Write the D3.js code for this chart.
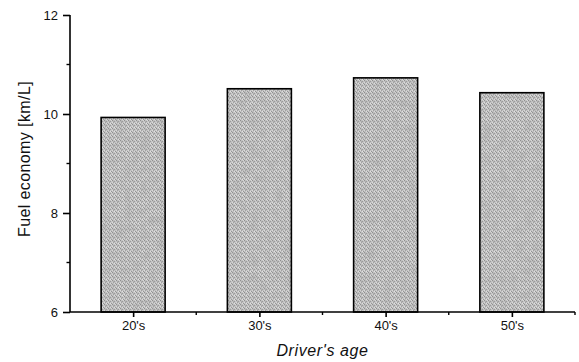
<!DOCTYPE html>
<html>
<head>
<meta charset="utf-8">
<script src="https://cdn.jsdelivr.net/npm/d3@7"></script>
<style>
  html, body { margin: 0; padding: 0; background: #fff; }
  svg { display: block; }
  text { font-family: "Liberation Sans", Arial, sans-serif; fill: #111; }
</style>
</head>
<body>
<svg id="chart" width="579" height="362"></svg>
<script>
// Fuel economy by driver age group
const categories = ["20's", "30's", "40's", "50's"];
const fuelEconomy = [9.93, 10.51, 10.73, 10.43];
const yMajorTicks = [6, 8, 10, 12];
const yMinorTicks = [7, 9, 11];

const svg = d3.select("#chart");
const plot = { left: 70, right: 575, top: 15, bottom: 312 };

// Halftone-like grey fill for the bars
const defs = svg.append("defs");
const pat = defs.append("pattern")
  .attr("id", "stipple")
  .attr("patternUnits", "userSpaceOnUse")
  .attr("width", 4).attr("height", 4);
pat.append("rect").attr("width", 4).attr("height", 4).attr("fill", "#c4c4c4");
[[0,0,"#8e8e8e"],[2,1,"#9a9a9a"],[1,2,"#a0a0a0"],[3,3,"#969696"],[2,3,"#e2e2e2"],[0,2,"#dcdcdc"],[3,0,"#d8d8d8"],[1,1,"#b0b0b0"]]
  .forEach(([x, y, c]) => pat.append("rect").attr("x", x).attr("y", y)
    .attr("width", 1).attr("height", 1).attr("fill", c));

const filt = defs.append("filter").attr("id", "mottle")
  .attr("x", 0).attr("y", 0).attr("width", 1).attr("height", 1);
filt.append("feTurbulence").attr("type", "fractalNoise")
  .attr("baseFrequency", 0.12).attr("numOctaves", 2).attr("seed", 4).attr("result", "noise");
filt.append("feColorMatrix").attr("in", "noise").attr("type", "matrix")
  .attr("values", "0 0 0 0 0.35  0 0 0 0 0.35  0 0 0 0 0.35  0.9 0 0 0 -0.35")
  .attr("result", "shade");
filt.append("feComposite").attr("in", "shade").attr("in2", "SourceGraphic")
  .attr("operator", "in").attr("result", "shadeIn");
filt.append("feMerge").selectAll("feMergeNode")
  .data(["SourceGraphic", "shadeIn"]).join("feMergeNode").attr("in", d => d);

const x = d3.scalePoint().domain(categories)
  .range([plot.left, plot.right]).padding(0.5);
const y = d3.scaleLinear().domain([6, 12]).range([plot.bottom, plot.top]);
const barW = x.step() * 0.507;

// Bars
const bars = svg.append("g");
bars.selectAll("rect.fill")
  .data(categories)
  .join("rect")
  .attr("class", "fill")
  .attr("x", d => x(d) - barW / 2)
  .attr("y", (d, i) => y(fuelEconomy[i]))
  .attr("width", barW)
  .attr("height", (d, i) => y(6) - y(fuelEconomy[i]))
  .attr("fill", "url(#stipple)")
  .attr("filter", "url(#mottle)");
bars.selectAll("rect.edge")
  .data(categories)
  .join("rect")
  .attr("class", "edge")
  .attr("x", d => x(d) - barW / 2)
  .attr("y", (d, i) => y(fuelEconomy[i]))
  .attr("width", barW)
  .attr("height", (d, i) => y(6) - y(fuelEconomy[i]))
  .attr("fill", "none")
  .attr("stroke", "#000")
  .attr("stroke-width", 1.6);

// Y axis
const yAxis = svg.append("g").attr("transform", `translate(${plot.left},0)`)
  .call(d3.axisLeft(y).tickValues(yMajorTicks).tickFormat(d3.format("d"))
    .tickSize(7).tickPadding(5));
yAxis.select(".domain").attr("d", `M0,${plot.bottom}V${plot.top}`);
yAxis.selectAll("line, path").attr("stroke", "#000").attr("stroke-width", 1.6);
yAxis.selectAll("text").style("font-size", "13px").attr("fill", "#111");
yAxis.selectAll(".minor").data(yMinorTicks).join("line")
  .attr("class", "minor")
  .attr("x1", -3.5).attr("x2", 0)
  .attr("y1", d => y(d)).attr("y2", d => y(d))
  .attr("stroke", "#000").attr("stroke-width", 1.4);

// X axis
const xAxis = svg.append("g").attr("transform", `translate(0,${plot.bottom})`)
  .call(d3.axisBottom(x).tickSize(5).tickPadding(4));
xAxis.select(".domain").attr("d", `M${plot.left},0H${plot.right}`);
xAxis.selectAll("line, path").attr("stroke", "#000").attr("stroke-width", 1.6);
xAxis.selectAll("text").style("font-size", "13px").attr("fill", "#111");
const xMinor = categories.slice(1).map(c => x(c) - x.step() / 2).concat([plot.right]);
xAxis.selectAll(".minor").data(xMinor).join("line")
  .attr("class", "minor")
  .attr("x1", d => d).attr("x2", d => d)
  .attr("y1", 0).attr("y2", 3)
  .attr("stroke", "#000").attr("stroke-width", 1.4);

// Axis titles
svg.append("text")
  .attr("x", (plot.left + plot.right) / 2)
  .attr("y", 356)
  .attr("text-anchor", "middle")
  .style("font-size", "16px")
  .style("font-style", "italic")
  .style("letter-spacing", "0.6px")
  .text("Driver's age");

svg.append("text")
  .attr("transform", "translate(30,159) rotate(-90)")
  .attr("text-anchor", "middle")
  .style("font-size", "16px")
  .style("letter-spacing", "0.4px")
  .text("Fuel economy [km/L]");
</script>
</body>
</html>
